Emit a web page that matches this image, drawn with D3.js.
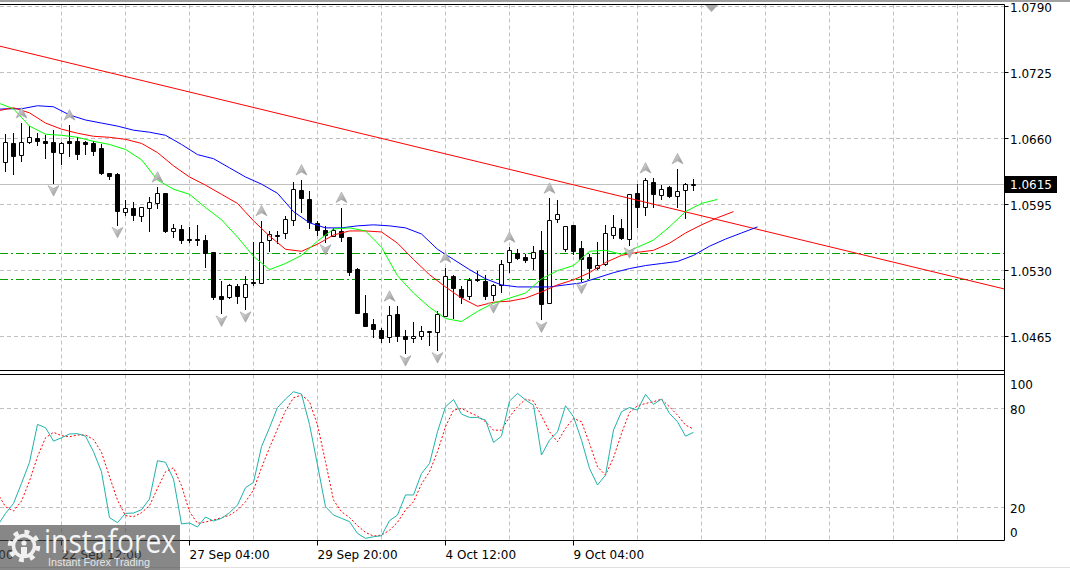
<!DOCTYPE html>
<html>
<head>
<meta charset="utf-8">
<script src="https://cdn.jsdelivr.net/npm/d3@7"></script>
<style>
  html, body { margin: 0; padding: 0; background: #fff; overflow: hidden; }
  svg { display: block; }
  text { font-family: "DejaVu Sans", sans-serif; }
</style>
</head>
<body>
<svg id="chart"></svg>
<script>
// ---------------- data (EURUSD H4) ----------------
const firstBar = -7; // bar index of the first candle, 0 = 22 Sep 12:00
// [open, high, low, close]
const ohlc = [
  [1.0637, 1.0664, 1.0628, 1.0656], [1.0655, 1.0665, 1.0625, 1.0643], [1.0644, 1.0675, 1.0638, 1.0656],
  [1.0656, 1.0672, 1.0655, 1.0661], [1.0660, 1.0665, 1.0653, 1.0657], [1.0657, 1.0663, 1.0641, 1.0655],
  [1.0656, 1.0668, 1.0616, 1.0647], [1.0646, 1.0656, 1.0635, 1.0655], [1.0657, 1.0673, 1.0643, 1.0655],
  [1.0657, 1.0661, 1.0640, 1.0645], [1.0656, 1.0657, 1.0645, 1.0654], [1.0655, 1.0657, 1.0644, 1.0648],
  [1.0650, 1.0654, 1.0625, 1.0626], [1.0626, 1.0626, 1.0620, 1.0623], [1.0625, 1.0626, 1.0575, 1.0589],
  [1.0588, 1.0599, 1.0585, 1.0592], [1.0592, 1.0597, 1.0580, 1.0585], [1.0584, 1.0593, 1.0579, 1.0593],
  [1.0592, 1.0602, 1.0569, 1.0597], [1.0596, 1.0612, 1.0592, 1.0606], [1.0606, 1.0606, 1.0568, 1.0569],
  [1.0569, 1.0576, 1.0563, 1.0572], [1.0571, 1.0575, 1.0557, 1.0560], [1.0561, 1.0573, 1.0558, 1.0560],
  [1.0561, 1.0575, 1.0555, 1.0560], [1.0560, 1.0565, 1.0534, 1.0547], [1.0548, 1.0548, 1.0502, 1.0504],
  [1.0505, 1.0520, 1.0488, 1.0502], [1.0504, 1.0517, 1.0503, 1.0516], [1.0515, 1.0517, 1.0498, 1.0505],
  [1.0504, 1.0525, 1.0492, 1.0517], [1.0519, 1.0558, 1.0516, 1.0518], [1.0518, 1.0579, 1.0518, 1.0558],
  [1.0560, 1.0569, 1.0549, 1.0566], [1.0565, 1.0569, 1.0557, 1.0564], [1.0567, 1.0584, 1.0562, 1.0581],
  [1.0580, 1.0617, 1.0575, 1.0610], [1.0609, 1.0619, 1.0588, 1.0601], [1.0600, 1.0608, 1.0572, 1.0578],
  [1.0577, 1.0579, 1.0565, 1.0570], [1.0570, 1.0574, 1.0558, 1.0565], [1.0564, 1.0572, 1.0564, 1.0570],
  [1.0569, 1.0592, 1.0559, 1.0563], [1.0563, 1.0563, 1.0526, 1.0529], [1.0532, 1.0533, 1.0488, 1.0488],
  [1.0488, 1.0506, 1.0476, 1.0476], [1.0478, 1.0482, 1.0465, 1.0473], [1.0472, 1.0474, 1.0460, 1.0464],
  [1.0465, 1.0495, 1.0460, 1.0486], [1.0487, 1.0495, 1.0461, 1.0466], [1.0466, 1.0472, 1.0449, 1.0463],
  [1.0464, 1.0480, 1.0460, 1.0466], [1.0466, 1.0476, 1.0463, 1.0471], [1.0470, 1.0471, 1.0457, 1.0471],
  [1.0470, 1.0490, 1.0452, 1.0487], [1.0485, 1.0533, 1.0485, 1.0525], [1.0525, 1.0526, 1.0483, 1.0513],
  [1.0512, 1.0515, 1.0498, 1.0504], [1.0505, 1.0523, 1.0502, 1.0521], [1.0522, 1.0530, 1.0520, 1.0521],
  [1.0520, 1.0526, 1.0502, 1.0505], [1.0506, 1.0517, 1.0501, 1.0516], [1.0516, 1.0540, 1.0509, 1.0537],
  [1.0538, 1.0553, 1.0529, 1.0550], [1.0547, 1.0551, 1.0541, 1.0542], [1.0543, 1.0546, 1.0538, 1.0540],
  [1.0542, 1.0554, 1.0532, 1.0548], [1.0550, 1.0569, 1.0482, 1.0497], [1.0498, 1.0601, 1.0498, 1.0580],
  [1.0581, 1.0599, 1.0578, 1.0586], [1.0551, 1.0574, 1.0549, 1.0574], [1.0575, 1.0575, 1.0546, 1.0549],
  [1.0552, 1.0559, 1.0520, 1.0541], [1.0543, 1.0546, 1.0523, 1.0533], [1.0533, 1.0558, 1.0532, 1.0536],
  [1.0537, 1.0575, 1.0536, 1.0567], [1.0565, 1.0585, 1.0562, 1.0573], [1.0572, 1.0581, 1.0561, 1.0562],
  [1.0561, 1.0605, 1.0555, 1.0605], [1.0606, 1.0615, 1.0573, 1.0593], [1.0593, 1.0621, 1.0585, 1.0619],
  [1.0617, 1.0621, 1.0593, 1.0605], [1.0604, 1.0614, 1.0600, 1.0610], [1.0612, 1.0613, 1.0602, 1.0603],
  [1.0603, 1.0630, 1.0593, 1.0608], [1.0609, 1.0616, 1.0582, 1.0615], [1.0614, 1.0620, 1.0609, 1.0615]
];

// fractal bars
const upFractals = [-5, 1, 12, 25, 30, 35, 41, 48, 56, 61, 73, 77];
const downFractals = [-1, 7, 20, 23, 33, 43, 47, 54, 60, 65, 71];

// alligator lines, one value every 2 bars from their start bar
const lipsStart = -8;   // green
const lips = [1.0695, 1.0689, 1.0672, 1.0664, 1.0663, 1.0661, 1.0657, 1.0654, 1.0649, 1.0639,
  1.0619, 1.0610, 1.0605, 1.0592, 1.0580, 1.0563, 1.0544, 1.0531, 1.0537, 1.0545,
  1.0559, 1.0571, 1.0572, 1.0569, 1.0553, 1.0525, 1.0508, 1.0494, 1.0483, 1.0480,
  1.0490, 1.0498, 1.0503, 1.0508, 1.0522, 1.0530, 1.0535, 1.0549, 1.0550, 1.0546,
  1.0553, 1.0560, 1.0573, 1.0588, 1.0596, 1.0600];
const teethStart = -8;  // red
const teeth = [1.0687, 1.0690, 1.0685, 1.0675, 1.0669, 1.0665, 1.0662, 1.0661, 1.0659, 1.0655,
  1.0646, 1.0633, 1.0622, 1.0614, 1.0605, 1.0596, 1.0579, 1.0564, 1.0551, 1.0549,
  1.0556, 1.0565, 1.0569, 1.0569, 1.0568, 1.0557, 1.0541, 1.0526, 1.0514, 1.0503,
  1.0495, 1.0499, 1.0500, 1.0503, 1.0509, 1.0516, 1.0521, 1.0528, 1.0538, 1.0545,
  1.0548, 1.0550, 1.0557, 1.0567, 1.0575, 1.0582, 1.0588];
const jawStart = -9;    // blue
const jaw = [1.0688, 1.0689, 1.0689, 1.0692, 1.0691, 1.0683, 1.0678, 1.0675, 1.0672, 1.0668,
  1.0666, 1.0663, 1.0654, 1.0644, 1.0640, 1.0631, 1.0622, 1.0615, 1.0606, 1.0588,
  1.0577, 1.0572, 1.0572, 1.0574, 1.0575, 1.0574, 1.0572, 1.0566, 1.0551, 1.0541,
  1.0531, 1.0522, 1.0516, 1.0514, 1.0514, 1.0514, 1.0516, 1.0518, 1.0523, 1.0528,
  1.0532, 1.0535, 1.0537, 1.0539, 1.0545, 1.0554, 1.0561, 1.0567, 1.0573];

// stochastic, one value per bar
const stochStart = -8;
const stochMain = [9, 16.5, 22.5, 34.6, 47.3, 70.2, 68.2, 60.1, 62.1, 64.4, 64.6, 63.1, 53.7, 41.6,
  13.9, 10.9, 16.5, 16.7, 18.7, 25.2, 48.3, 47.3, 37.2, 10.1, 10.7, 8.3, 14.3, 11.9, 13.5, 16.9,
  21.5, 32.0, 35.2, 56.7, 68.2, 80.4, 85.5, 89.9, 88.5, 70.2, 45.7, 20.5, 15.5, 13.5, 11.5, 4.4,
  1.4, 2.4, 3.0, 12.1, 15.5, 27.6, 27.6, 40.6, 46.6, 65.8, 80.8, 85.2, 76.4, 74.4, 74.4, 72.8,
  59.3, 63.1, 84.3, 88.9, 84.9, 81.8, 51.7, 60.7, 65.7, 81.4, 74.8, 60.7, 43.6, 33.6, 39.6, 66.8,
  77.8, 80.4, 78.8, 88.3, 82.3, 85.5, 76.8, 71.8, 63.1, 65.4];
const stochSignal = [28.6, 20.5, 17.9, 23.9, 36.0, 50.7, 62.1, 65.4, 63.4, 62.7, 63.8, 63.8, 61.1,
  53.3, 38.6, 24.5, 15.1, 14.5, 16.9, 21.1, 31.6, 41.6, 44.0, 33.2, 17.5, 10.5, 11.3, 12.5, 13.9,
  15.3, 18.5, 23.5, 30.6, 44.0, 56.1, 67.4, 78.4, 86.3, 87.9, 83.9, 69.8, 47.7, 24.5, 17.5, 14.0,
  9.1, 5.0, 2.8, 3.4, 6.3, 11.1, 18.5, 23.5, 34.2, 41.6, 53.7, 68.8, 78.8, 79.8, 77.4, 75.2, 71.8,
  66.7, 66.7, 74.8, 80.8, 85.4, 84.3, 75.4, 65.7, 59.7, 67.8, 73.8, 71.8, 58.7, 44.6, 39.6, 50.1,
  64.7, 77.4, 81.4, 82.8, 83.9, 85.4, 80.8, 75.8, 69.8, 67.4];

// drawn objects
const trendAnchors = [[11, 1.0715], [61, 1.0620]];
const levels = [1.0547, 1.0521];
const bidPrice = 1.0615;
const shiftBar = 81.25;

// axis ticks
const priceTicks = [1.0465, 1.0530, 1.0595, 1.0660, 1.0725, 1.0790];
const stochTicks = [0, 20, 80, 100];
const timeTicks = [
  { bar: -16, label: "19 Sep 20:00" },
  { bar: 0, label: "22 Sep 12:00" },
  { bar: 16, label: "27 Sep 04:00" },
  { bar: 32, label: "29 Sep 20:00" },
  { bar: 48, label: "4 Oct 12:00" },
  { bar: 64, label: "9 Oct 04:00" }
];

// ---------------- layout ----------------
const W = 1070, H = 570;
const axisX = 1004.5;
const mainTop = 4.5, mainBottom = 370.5;
const subTop = 374.5, subBottom = 540.5;
const grey = '#c0c0c0';

const svg = d3.select('#chart').attr('width', W).attr('height', H);
const crisp = v => Math.round(v - 0.5) + 0.5;

// bar index -> pixel (8 px per bar)
const x = d3.scaleLinear().domain([-7.6875, 117.8125]).range([0, 1004]);
const y = d3.scaleLinear().domain([1.0465, 1.0790]).range([336.8, 6]);
const ys = d3.scaleLinear().domain([0, 100]).range([540.7, 375]);

const defs = svg.append('defs');
defs.append('clipPath').attr('id', 'clipMain')
  .append('rect').attr('x', 0).attr('y', mainTop).attr('width', axisX).attr('height', mainBottom - mainTop);
defs.append('clipPath').attr('id', 'clipSub')
  .append('rect').attr('x', 0).attr('y', subTop).attr('width', axisX).attr('height', subBottom - subTop);
const grad = defs.append('linearGradient').attr('id', 'arrowGrad')
  .attr('x1', 0).attr('y1', 0).attr('x2', 1).attr('y2', 1);
grad.append('stop').attr('offset', '0%').attr('stop-color', '#e6e6e6');
grad.append('stop').attr('offset', '100%').attr('stop-color', '#8c8c8c');

// top strip
svg.append('rect').attr('x', 0).attr('y', 0).attr('width', W).attr('height', 2).attr('fill', '#a0a0a0');

// ---------------- grids ----------------
const gridBars = d3.range(0, 113, 8);
const grid = svg.append('g').attr('stroke', grey).attr('stroke-dasharray', '4,3');

grid.selectAll('.vgm').data(gridBars).enter().append('line')
  .attr('x1', d => crisp(x(d))).attr('x2', d => crisp(x(d)))
  .attr('y1', mainTop).attr('y2', mainBottom);
grid.selectAll('.vgs').data(gridBars).enter().append('line')
  .attr('x1', d => crisp(x(d))).attr('x2', d => crisp(x(d)))
  .attr('y1', subTop).attr('y2', subBottom);
grid.selectAll('.hgm').data(priceTicks).enter().append('line')
  .attr('x1', 0).attr('x2', axisX)
  .attr('y1', d => crisp(y(d))).attr('y2', d => crisp(y(d)));
grid.selectAll('.hgs').data([20, 80]).enter().append('line')
  .attr('x1', 0).attr('x2', axisX)
  .attr('y1', d => crisp(ys(d))).attr('y2', d => crisp(ys(d)));

// ---------------- main panel ----------------
const plot = svg.append('g').attr('clip-path', 'url(#clipMain)');

// horizontal levels and bid line
plot.selectAll('.level').data(levels).enter().append('line')
  .attr('x1', 0).attr('x2', axisX)
  .attr('y1', d => crisp(y(d))).attr('y2', d => crisp(y(d)))
  .attr('stroke', '#00a000').attr('stroke-dasharray', '8,3,2,3');
plot.append('line')
  .attr('x1', 0).attr('x2', axisX)
  .attr('y1', crisp(y(bidPrice))).attr('y2', crisp(y(bidPrice)))
  .attr('stroke', grey);

// candles
const bars = ohlc.map((d, i) => ({ bar: firstBar + i, o: d[0], h: d[1], l: d[2], c: d[3] }));
const cg = plot.selectAll('.candle').data(bars).enter().append('g').attr('class', 'candle');
cg.append('line')
  .attr('x1', d => x(d.bar)).attr('x2', d => x(d.bar))
  .attr('y1', d => Math.round(y(d.h))).attr('y2', d => Math.round(y(d.l)) + 1)
  .attr('stroke', '#000');
cg.append('path')
  .attr('d', d => {
    const t = Math.round(y(Math.max(d.o, d.c))) + 0.5;
    const b = Math.max(t, Math.round(y(Math.min(d.o, d.c))) + 0.5);
    const cx = x(d.bar);
    return `M${cx - 2},${t}H${cx + 2}V${b}H${cx - 2}Z`;
  })
  .attr('fill', d => d.c >= d.o ? '#fff' : '#000')
  .attr('stroke', '#000');

// trend line, extended across the chart
const [a1, a2] = trendAnchors;
const trendAt = b => a1[1] + (b - a1[0]) * (a2[1] - a1[1]) / (a2[0] - a1[0]);
const [b0, b1] = x.domain();
plot.append('line')
  .attr('x1', x(b0)).attr('y1', y(trendAt(b0)))
  .attr('x2', x(b1)).attr('y2', y(trendAt(b1)))
  .attr('stroke', '#ff0000');

// alligator
const maLine = start => d3.line().x((d, i) => x(start + 2 * i)).y(d => y(d));
plot.append('path').datum(jaw).attr('d', maLine(jawStart)).attr('fill', 'none').attr('stroke', '#0000ff');
plot.append('path').datum(teeth).attr('d', maLine(teethStart)).attr('fill', 'none').attr('stroke', '#ff0000');
plot.append('path').datum(lips).attr('d', maLine(lipsStart)).attr('fill', 'none').attr('stroke', '#00ff00');

// fractal arrows
const barOf = b => bars[b - firstBar];
plot.selectAll('.fup').data(upFractals).enter().append('path')
  .attr('transform', d => `translate(${x(d)},${y(barOf(d).h) - 10})`)
  .attr('d', 'M0,-5.5L5.5,5L0,2L-5.5,5Z')
  .attr('fill', 'url(#arrowGrad)').attr('stroke', '#a0a0a0').attr('stroke-width', 0.6);
plot.selectAll('.fdn').data(downFractals).enter().append('path')
  .attr('transform', d => `translate(${x(d)},${y(barOf(d).l) + 7.5})`)
  .attr('d', 'M0,5.5L5.5,-5L0,-2L-5.5,-5Z')
  .attr('fill', 'url(#arrowGrad)').attr('stroke', '#a0a0a0').attr('stroke-width', 0.6);

// chart shift marker
svg.append('path')
  .attr('transform', `translate(${x(shiftBar)},${mainTop})`)
  .attr('d', 'M-6.5,0.5H6.5L0,7.5Z')
  .attr('fill', '#a8a8a8');

// ---------------- stochastic panel ----------------
const sub = svg.append('g').attr('clip-path', 'url(#clipSub)');
const stLine = d3.line().x((d, i) => x(stochStart + i)).y(d => ys(d));
sub.append('path').datum(stochSignal).attr('d', stLine)
  .attr('fill', 'none').attr('stroke', '#ff0000').attr('stroke-dasharray', '2,2');
sub.append('path').datum(stochMain).attr('d', stLine)
  .attr('fill', 'none').attr('stroke', '#20b2aa');

// ---------------- frames and axes ----------------
const frame = svg.append('g').attr('stroke', '#000').attr('fill', 'none');
frame.append('line').attr('x1', 0).attr('x2', axisX).attr('y1', mainTop).attr('y2', mainTop);
frame.append('line').attr('x1', 0).attr('x2', axisX).attr('y1', mainBottom).attr('y2', mainBottom);
frame.append('line').attr('x1', 0).attr('x2', axisX).attr('y1', subTop).attr('y2', subTop);
frame.append('line').attr('x1', 0).attr('x2', axisX).attr('y1', subBottom).attr('y2', subBottom);
frame.append('line').attr('x1', axisX).attr('x2', axisX).attr('y1', mainTop).attr('y2', subBottom);

// price axis
svg.selectAll('.ptick').data(priceTicks).enter().append('line')
  .attr('x1', axisX).attr('x2', axisX + 4)
  .attr('y1', d => crisp(y(d))).attr('y2', d => crisp(y(d)))
  .attr('stroke', '#000');
svg.selectAll('.plabel').data(priceTicks).enter().append('text')
  .attr('x', 1010).attr('y', d => y(d) + 5.5)
  .style('font-size', '12px').attr('fill', '#000')
  .text(d => d.toFixed(4));

// bid label
const by = crisp(y(bidPrice));
svg.append('rect').attr('x', 1005).attr('y', by - 8.5).attr('width', 52).attr('height', 17).attr('fill', '#000');
svg.append('text').attr('x', 1010).attr('y', by + 4.5)
  .style('font-size', '12px').attr('fill', '#fff').text(bidPrice.toFixed(4));

// stochastic axis
svg.selectAll('.slabel').data(stochTicks).enter().append('text')
  .attr('x', 1010)
  .attr('y', d => Math.min(Math.max(ys(d) + 1, subTop + 10), subBottom - 8) + 4.5)
  .style('font-size', '12px').attr('fill', '#000')
  .text(d => d);

// time axis
svg.selectAll('.ttick').data(timeTicks).enter().append('line')
  .attr('x1', d => x(d.bar)).attr('x2', d => x(d.bar))
  .attr('y1', subBottom).attr('y2', subBottom + 5)
  .attr('stroke', '#000');
svg.selectAll('.tlabel').data(timeTicks).enter().append('text')
  .attr('x', d => x(d.bar)).attr('y', 559)
  .style('font-size', '12px').attr('fill', '#000')
  .text(d => d.label);

svg.append('line').attr('x1', 0).attr('x2', W).attr('y1', 567.5).attr('y2', 567.5).attr('stroke', '#e0e0e0');

// ---------------- watermark ----------------
const logo = svg.append('g');
logo.append('rect').attr('x', 0).attr('y', 525).attr('width', 180).attr('height', 45)
  .attr('fill', 'rgb(70,70,70)').attr('fill-opacity', 0.65);
const gear = logo.append('g').attr('transform', 'translate(24,546)').attr('fill', 'none').attr('stroke', '#f0f0f0');
gear.append('circle').attr('r', 14).attr('stroke-width', 4.5).attr('stroke-dasharray', '4.8,6.2');
gear.append('circle').attr('r', 10.5).attr('stroke-width', 3.5);
gear.append('circle').attr('cy', -3).attr('r', 2.6).attr('fill', '#f0f0f0').attr('stroke', 'none');
gear.append('path').attr('d', 'M-3,1H3V9H-3Z').attr('fill', '#f0f0f0').attr('stroke', 'none');
logo.append('text').attr('x', 44).attr('y', 553)
  .attr('textLength', 132).attr('lengthAdjust', 'spacingAndGlyphs')
  .style('font-family', '"Open Sans", "Liberation Sans", sans-serif')
  .style('font-size', '32px').attr('fill', '#f4f4f4')
  .text('instaforex');
logo.append('text').attr('x', 48).attr('y', 566)
  .attr('textLength', 102).attr('lengthAdjust', 'spacingAndGlyphs')
  .style('font-family', '"Liberation Sans", sans-serif')
  .style('font-size', '10px').attr('fill', '#e6e6e6')
  .text('Instant Forex Trading');
</script>
</body>
</html>
